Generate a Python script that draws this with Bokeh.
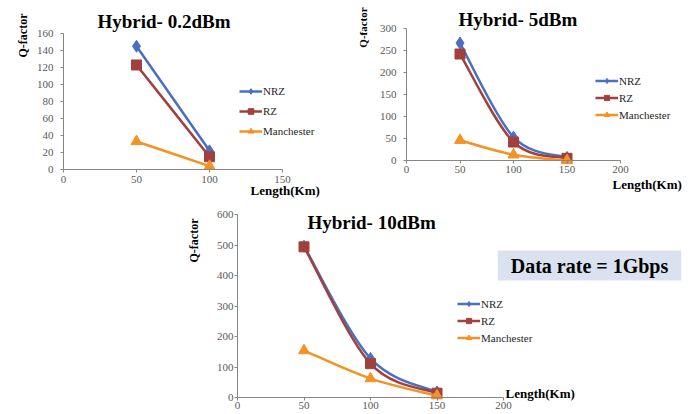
from math import pi
from bokeh.plotting import figure
from bokeh.models import (Range1d, Legend, LegendItem, Label, Spacer,
                          FixedTicker, ColumnDataSource)
from bokeh.layouts import row, column
from bokeh.embed import file_html
from bokeh.resources import INLINE

# ---------------- data ----------------
series_names = ["NRZ", "RZ", "Manchester"]
titles = ["Hybrid- 0.2dBm", "Hybrid- 5dBm", "Hybrid- 10dBm"]
x_label = "Length(Km)"
y_label = "Q-factor"
note_text = "Data rate = 1Gbps"

length_1 = [50, 100]
nrz_1 = [145, 22]
rz_1 = [123, 15]
man_1 = [33, 4]

length_2 = [50, 100, 150]
nrz_2 = [267, 53, 7]
rz_2 = [242, 42, 5]
man_2 = [46, 13, 0]

length_3 = [50, 100, 150]
nrz_3 = [496, 128, 18]
rz_3 = [494, 111, 14]
man_3 = [154, 62, 6]

x_ticks_1 = [0, 50, 100, 150]
y_ticks_1 = [0, 20, 40, 60, 80, 100, 120, 140, 160]
x_ticks_2 = [0, 50, 100, 150, 200]
y_ticks_2 = [0, 50, 100, 150, 200, 250, 300]
x_ticks_3 = [0, 50, 100, 150, 200]
y_ticks_3 = [0, 100, 200, 300, 400, 500, 600]

# ---------------- style ----------------
COLORS = ["#4a6fc2", "#a0413f", "#f39325"]
MARKERS = ["diamond", "square", "triangle"]
SIZES = [12, 10, 11]
SERIF = "Liberation Serif"
AXIS_GREY = "#868686"


def smooth_parts(xs, ys):
    """Bezier control points (Catmull-Rom style smoothing) from the data."""
    n = len(xs)
    d = dict(x0=[], y0=[], x1=[], y1=[], cx0=[], cy0=[], cx1=[], cy1=[])
    for i in range(n - 1):
        xp, yp = (xs[i - 1], ys[i - 1]) if i > 0 else (xs[i], ys[i])
        xn, yn = (xs[i + 2], ys[i + 2]) if i + 2 < n else (xs[i + 1], ys[i + 1])
        d["x0"].append(xs[i]); d["y0"].append(ys[i])
        d["x1"].append(xs[i + 1]); d["y1"].append(ys[i + 1])
        d["cx0"].append(xs[i] + (xs[i + 1] - xp) / 6.0)
        d["cy0"].append(ys[i] + (ys[i + 1] - yp) / 6.0)
        d["cx1"].append(xs[i + 1] - (xn - xs[i]) / 6.0)
        d["cy1"].append(ys[i + 1] - (yn - ys[i]) / 6.0)
    return ColumnDataSource(d)


def make_chart(xs, series, xmax, ymax, xt, yt, box, axes_px, title, title_pos,
               ylab_pos, ylab_size, xlab_pos, legend_pos, legend_h, legend_sp,
               ystand, xstand, extra=None):
    # box: figure origin on the page and its size
    ox, oy, W, H = box
    # axes_px: page pixels of the value-axis origin and of (xmax, ymax)
    x0p, y0p, x1p, y1p = axes_px
    sx = (x1p - x0p) / xmax
    sy = (y0p - y1p) / ymax
    xr = Range1d(-(x0p - ox) / sx, (ox + W - x0p) / sx)
    yr = Range1d(-(oy + H - y0p) / sy, (y0p - oy) / sy)
    p = figure(x_range=xr, y_range=yr, width=W, height=H,
               min_border=0, toolbar_location=None, output_backend="svg",
               background_fill_color="white", border_fill_color="white")
    p.title.visible = False
    p.outline_line_color = None
    p.xgrid.visible = False
    p.ygrid.visible = False
    p.xaxis.ticker = FixedTicker(ticks=xt)
    p.yaxis.ticker = FixedTicker(ticks=yt)
    p.xaxis.fixed_location = 0
    p.yaxis.fixed_location = 0
    p.xaxis.bounds = (0, xmax)
    p.yaxis.bounds = (0, ymax)
    for ax in (p.xaxis[0], p.yaxis[0]):
        ax.axis_line_color = AXIS_GREY
        ax.major_tick_line_color = AXIS_GREY
        ax.major_tick_out = 3
        ax.major_tick_in = 0
        ax.minor_tick_line_color = None
        ax.major_label_text_font = SERIF
        ax.major_label_text_font_size = "11px"
        ax.major_label_text_color = "#595959"
    p.yaxis[0].major_label_standoff = ystand
    p.xaxis[0].major_label_standoff = xstand

    def dx(px):
        return (px - x0p) / sx

    def dy(py):
        return (y0p - py) / sy

    items = []
    for name, ys, col, mk, sz in zip(series_names, series, COLORS, MARKERS, SIZES):
        src = smooth_parts(xs, ys)
        br_ = p.bezier(x0="x0", y0="y0", x1="x1", y1="y1", cx0="cx0", cy0="cy0",
                       cx1="cx1", cy1="cy1", source=src, line_color=col,
                       line_width=2.5)
        sr = p.scatter(xs, ys, marker=mk, size=sz, fill_color=col, line_color=col)
        items.append(LegendItem(label=name, renderers=[br_, sr]))

    # legend_pos: page pixels of the legend's left and bottom edges
    leg = Legend(items=items,
                 location=(legend_pos[0] - ox, oy + H - legend_pos[1]),
                 padding=0, margin=0,
                 spacing=legend_sp, glyph_width=23, glyph_height=legend_h,
                 label_height=legend_h, label_standoff=1,
                 label_text_font=SERIF, label_text_font_size="11px",
                 label_text_color="#262626", background_fill_alpha=0,
                 border_line_alpha=0)
    p.add_layout(leg)

    p.add_layout(Label(x=dx(title_pos[0]), y=dy(title_pos[1]), text=title,
                       text_font=SERIF, text_font_style="bold",
                       text_font_size="19px", text_color="black",
                       text_align="left", text_baseline="middle"))
    p.add_layout(Label(x=dx(ylab_pos[0]), y=dy(ylab_pos[1]), text=y_label,
                       angle=pi / 2, text_font=SERIF, text_font_style="bold",
                       text_font_size=ylab_size, text_color="black",
                       text_align="center", text_baseline="middle"))
    p.add_layout(Label(x=dx(xlab_pos[0]), y=dy(xlab_pos[1]), text=x_label,
                       text_font=SERIF, text_font_style="bold",
                       text_font_size="13px", text_color="black",
                       text_align="left", text_baseline="middle"))
    if extra is not None:
        ex, ey = extra
        p.add_layout(Label(x=dx(ex), y=dy(ey), text=note_text,
                           text_font=SERIF, text_font_style="bold",
                           text_font_size="20px", text_color="black",
                           text_align="center", text_baseline="middle",
                           background_fill_color="#dbe2ef",
                           padding=dict(left=13, right=13, top=4, bottom=4)))
    return p


f1 = make_chart(length_1, [nrz_1, rz_1, man_1], 150, 160, x_ticks_1, y_ticks_1,
                (0, 0, 345, 200), (63, 169, 282, 33), titles[0], (97, 21),
                (22, 35), "12px", (250, 190), (239, 138), 14, 6, 7, 3)
f2 = make_chart(length_2, [nrz_2, rz_2, man_2], 200, 300, x_ticks_2, y_ticks_2,
                (345, 0, 352, 200), (406, 160, 620, 28), titles[1], (458, 19),
                (362, 27), "11px", (612, 184), (595, 121), 13, 4, 7, 2)
f3 = make_chart(length_3, [nrz_3, rz_3, man_3], 200, 600, x_ticks_3, y_ticks_3,
                (180, 200, 517, 214), (237, 397, 503, 214), titles[2], (307, 222),
                (193, 240), "12px", (505, 393), (457, 344), 13, 4, 1, 1,
                extra=(589, 265))

layout = column(row(f1, f2), row(Spacer(width=180, height=214), f3))

open("out.html", "w").write(file_html(layout, INLINE))
